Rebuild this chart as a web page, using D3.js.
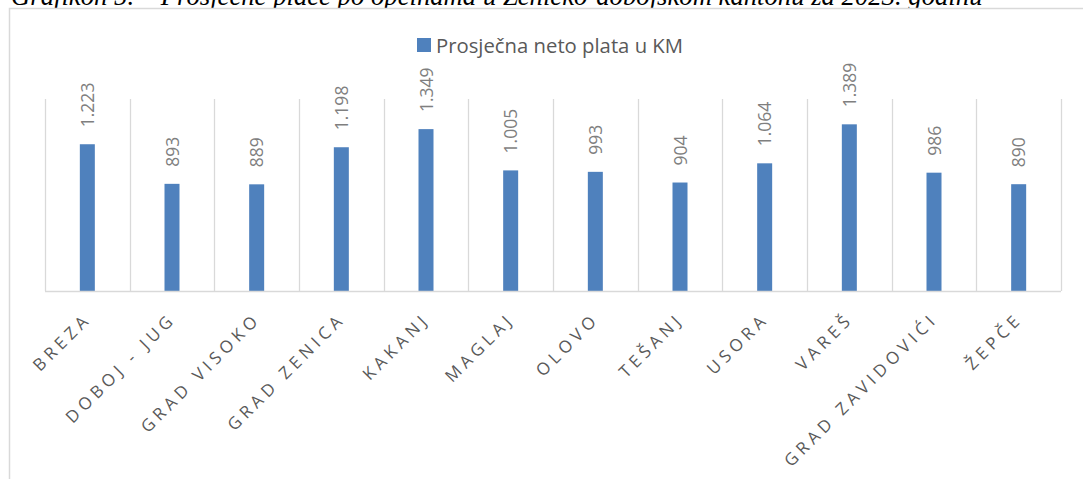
<!DOCTYPE html>
<html>
<head>
<meta charset="utf-8">
<script src="https://cdn.jsdelivr.net/npm/d3@7"></script>
<style>
  body { margin: 0; background: #fff; }
  svg { display: block; }
</style>
</head>
<body>
<div id="chart"></div>
<script>
// data
var categories = ['BREZA', 'DOBOJ - JUG', 'GRAD VISOKO', 'GRAD ZENICA', 'KAKANJ', 'MAGLAJ',
                  'OLOVO', 'TEŠANJ', 'USORA', 'VAREŠ', 'GRAD ZAVIDOVIĆI', 'ŽEPČE']
var values = [1223, 893, 889, 1198, 1349, 1005, 993, 904, 1064, 1389, 986, 890]
var valueLabels = ['1.223', '893', '889', '1.198', '1.349', '1.005', '993', '904', '1.064', '1.389', '986', '890']
var seriesName = 'Prosječna neto plata u KM'
var title = 'Grafikon 5. – Prosječne plaće po općinama u Zeničko-dobojskom kantonu za 2023. godinu'

var W = 1083, H = 479
var margin = { top: 99, right: 22, bottom: 188, left: 45 },
    width = W - margin.left - margin.right,
    height = H - margin.top - margin.bottom;

var svg = d3.select('#chart').append('svg')
    .attr('width', W)
    .attr('height', H)

// title (its top is cut off in the original too)
svg.append('text')
    .attr('x', 11)
    .attr('y', 5)
    .style('font-family', '"Liberation Serif", "Times New Roman", serif')
    .style('font-style', 'italic')
    .style('font-size', '26.7px')
    .style('fill', '#000')
    .text(title)

// chart frame
svg.append('rect')
    .attr('x', 9.5)
    .attr('y', 8.5)
    .attr('width', W + 20)
    .attr('height', H + 20)
    .attr('fill', '#fff')
    .attr('stroke', '#d9d9d9')
    .attr('stroke-width', 1.5)

var g = svg.append('g')
    .attr('transform', 'translate(' + margin.left + ',' + margin.top + ')')

var x = d3.scaleBand()
    .domain(categories)
    .range([0, width])

var y = d3.scaleLinear()
    .domain([0, 1600])
    .range([height, 0])

// vertical gridlines between categories
var gridX = categories.map(c => x(c)).concat([width])
g.selectAll('.vgrid')
    .data(gridX)
    .enter()
    .append('line')
    .attr('class', 'vgrid')
    .attr('x1', d => Math.round(d) + 0.5)
    .attr('x2', d => Math.round(d) + 0.5)
    .attr('y1', 0)
    .attr('y2', height)
    .attr('stroke', '#d9d9d9')
    .attr('stroke-width', 1.3)

// bars
var barW = 15
g.selectAll('.bar')
    .data(values)
    .enter()
    .append('rect')
    .attr('class', 'bar')
    .attr('x', (d, i) => x(categories[i]) + x.bandwidth() / 2 - barW / 2)
    .attr('y', d => y(d))
    .attr('width', barW)
    .attr('height', d => height - y(d))
    .attr('fill', '#4f81bd')

// category axis line
g.append('line')
    .attr('x1', 0)
    .attr('x2', width)
    .attr('y1', height + 0.5)
    .attr('y2', height + 0.5)
    .attr('stroke', '#d9d9d9')
    .attr('stroke-width', 1.5)

// value labels, rotated
g.selectAll('.vlabel')
    .data(values)
    .enter()
    .append('text')
    .attr('class', 'vlabel')
    .attr('transform', (d, i) => 'translate(' + (x(categories[i]) + x.bandwidth() / 2 + 6.5) + ',' + (y(d) - 17) + ') rotate(-90)')
    .style('font-family', '"Open Sans", "Noto Sans", sans-serif')
    .style('font-size', '17.5px')
    .style('fill', '#7f7f7f')
    .text((d, i) => valueLabels[i])

// category labels, rotated -45
g.selectAll('.clabel')
    .data(categories)
    .enter()
    .append('text')
    .attr('class', 'clabel')
    .attr('text-anchor', 'end')
    .attr('transform', d => 'translate(' + (x(d) + x.bandwidth() / 2 + 5) + ',' + (height + 29) + ') rotate(-45)')
    .style('font-family', '"Open Sans", "Noto Sans", sans-serif')
    .style('font-size', '17px')
    .style('letter-spacing', '4.5px')
    .style('fill', '#595959')
    .text(d => d)

// legend
var legend = svg.append('g')
    .attr('transform', 'translate(417,38)')
legend.append('rect')
    .attr('width', 14)
    .attr('height', 14)
    .attr('fill', '#4f81bd')
legend.append('text')
    .attr('x', 19)
    .attr('y', 15)
    .style('font-family', '"Open Sans", "Noto Sans", sans-serif')
    .style('font-size', '20.3px')
    .style('fill', '#595959')
    .text(seriesName)
</script>
</body>
</html>
